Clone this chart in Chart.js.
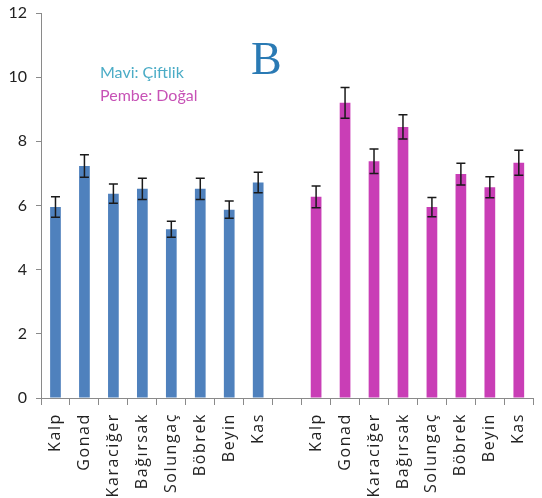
<!DOCTYPE html>
<html>
<head>
<meta charset="utf-8">
<script src="https://cdn.jsdelivr.net/npm/chart.js@4"></script>
<style>
    html, body { margin: 0; padding: 0; background: #fff; overflow: hidden; }
    #wrap { width: 546px; height: 498px; }
</style>
</head>
<body>
<div id="wrap"><canvas id="organChart" width="546" height="498"></canvas></div>
<script>
// organ names, same order for both groups
const organs = ['Kalp', 'Gonad', 'Karaciğer', 'Bağırsak', 'Solungaç', 'Böbrek', 'Beyin', 'Kas'];

// farmed fish (blue)
const farmValues = [5.95, 7.23, 6.37, 6.52, 5.26, 6.52, 5.87, 6.72];
const farmErrors = [0.32, 0.35, 0.30, 0.33, 0.25, 0.33, 0.27, 0.32];

// wild fish (pink)
const wildValues = [6.27, 9.20, 7.38, 8.45, 5.95, 6.98, 6.57, 7.33];
const wildErrors = [0.34, 0.48, 0.38, 0.38, 0.30, 0.34, 0.33, 0.39];

const yTicks = [0, 2, 4, 6, 8, 10, 12];

const farmColor = '#4f81bd';
const wildColor = '#c93eb6';

// one empty slot between the two groups
const labels = [...organs, '', ...organs];
const values = [...farmValues, null, ...wildValues];
const errors = [...farmErrors, null, ...wildErrors];
const colors = [...farmValues.map(() => farmColor), 'rgba(0,0,0,0)', ...wildValues.map(() => wildColor)];

/**
 * Spread out the letters of the category labels; the y labels are drawn
 * after the datasets (ticks.z = 1) when the spacing is already reset.
 */
const spacingPlugin = {
    id: 'labelSpacing',
    beforeDraw(chart) {
        chart.ctx.letterSpacing = '1.6px';
    },
    afterDatasetsDraw(chart) {
        chart.ctx.letterSpacing = '0px';
    }
};

/**
 * Draw the +/- error whiskers on top of each bar.
 */
const errorBarPlugin = {
    id: 'errorBars',
    afterDatasetsDraw(chart) {
        const ctx = chart.ctx;
        const yScale = chart.scales.y;
        const meta = chart.getDatasetMeta(0);
        ctx.save();
        ctx.strokeStyle = '#1a1a1a';
        ctx.lineWidth = 1.5;
        meta.data.forEach((bar, i) => {
            const v = values[i];
            const e = errors[i];
            if (v == null || e == null) return;
            const x = bar.x;
            const yTop = yScale.getPixelForValue(v + e);
            const yBot = yScale.getPixelForValue(v - e);
            ctx.beginPath();
            ctx.moveTo(x, yTop);
            ctx.lineTo(x, yBot);
            ctx.moveTo(x - 4.5, yTop);
            ctx.lineTo(x + 4.5, yTop);
            ctx.moveTo(x - 4.5, yBot);
            ctx.lineTo(x + 4.5, yBot);
            ctx.stroke();
        });
        ctx.restore();
    }
};

/**
 * Panel letter and the colour key written inside the plot.
 */
const notesPlugin = {
    id: 'notes',
    afterDraw(chart) {
        const ctx = chart.ctx;
        ctx.save();
        ctx.letterSpacing = '0px';
        ctx.textBaseline = 'alphabetic';
        ctx.textAlign = 'left';

        ctx.fillStyle = '#2a7ab4';
        ctx.font = '46px "Liberation Serif", "DejaVu Serif", serif';
        ctx.fillText('B', 251, 74);

        ctx.font = '16px Lato, "Open Sans", sans-serif';
        ctx.fillStyle = '#4bacc6';
        ctx.fillText('Mavi: Çiftlik', 100, 78);
        ctx.fillStyle = '#c752b6';
        ctx.fillText('Pembe: Doğal', 100, 101);
        ctx.restore();
    }
};

function initOrganChart() {
    const canvas = document.getElementById('organChart');
    const ctx = canvas.getContext('2d');
    new Chart(ctx, {
        type: 'bar',
        data: {
            labels: labels,
            datasets: [{
                data: values,
                backgroundColor: colors,
                borderWidth: 0,
                barPercentage: 0.37,
                categoryPercentage: 1.0
            }]
        },
        options: {
            responsive: false,
            animation: false,
            layout: { padding: { top: 13, right: 0, left: 0, bottom: 0 } },
            plugins: {
                legend: { display: false },
                tooltip: { enabled: false }
            },
            scales: {
                x: {
                    grid: {
                        offset: true,
                        drawOnChartArea: false,
                        tickLength: 7,
                        color: '#8a8a8a'
                    },
                    border: { color: '#8a8a8a', width: 1 },
                    ticks: {
                        autoSkip: false,
                        minRotation: 90,
                        maxRotation: 90,
                        padding: 8,
                        color: '#222',
                        font: { family: '"Open Sans", Lato, sans-serif', size: 16 }
                    },
                    afterFit(scale) { scale.height = 100; }
                },
                y: {
                    min: 0,
                    max: 12,
                    afterBuildTicks(scale) {
                        scale.ticks = yTicks.map(v => ({ value: v }));
                    },
                    grid: {
                        drawOnChartArea: false,
                        tickLength: 5,
                        color: '#8a8a8a'
                    },
                    border: { color: '#8a8a8a', width: 1 },
                    ticks: {
                        z: 1,
                        padding: 9,
                        color: '#222',
                        font: { family: 'Lato, "Open Sans", sans-serif', size: 16 }
                    },
                    afterFit(scale) {
                        scale.width = 41;
                        scale.paddingTop = 0;
                        scale.paddingBottom = 0;
                    }
                }
            }
        },
        plugins: [spacingPlugin, errorBarPlugin, notesPlugin]
    });
}

initOrganChart();
</script>
</body>
</html>
